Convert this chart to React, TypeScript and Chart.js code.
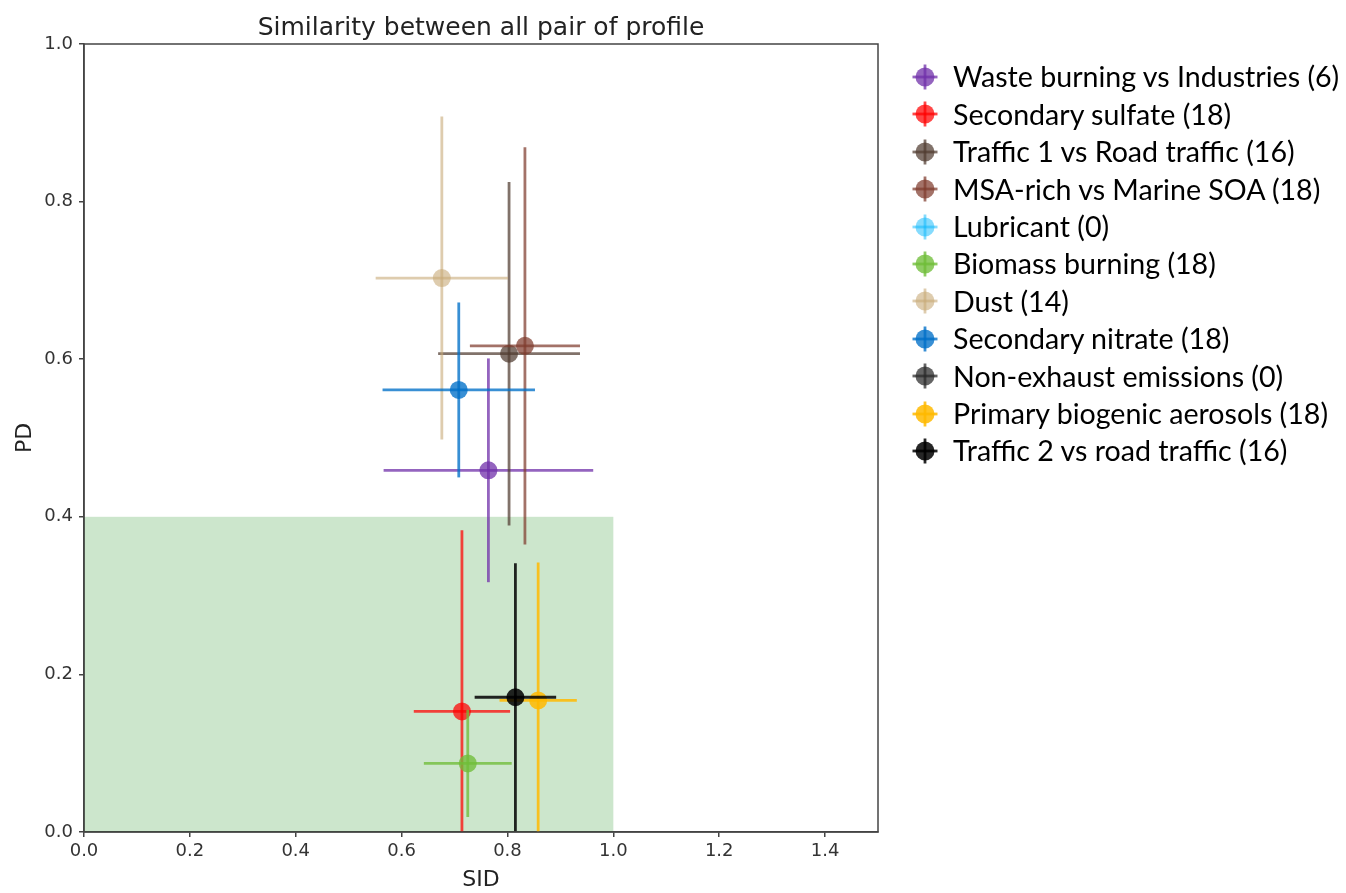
import React, { useEffect, useRef } from "react";
import { Chart, registerables } from "chart.js";

Chart.register(...registerables);

const seriesLabels = [
  "Waste burning vs Industries (6)",
  "Secondary sulfate (18)",
  "Traffic 1 vs Road traffic (16)",
  "MSA-rich vs Marine SOA (18)",
  "Lubricant (0)",
  "Biomass burning (18)",
  "Dust (14)",
  "Secondary nitrate (18)",
  "Non-exhaust emissions (0)",
  "Primary biogenic aerosols (18)",
  "Traffic 2 vs road traffic (16)",
];
const seriesColors = [
  "rgba(112,48,170,0.75)",
  "rgba(255,0,0,0.72)",
  "rgba(80,60,48,0.72)",
  "rgba(128,60,46,0.72)",
  "rgba(0,180,250,0.48)",
  "rgba(112,190,56,0.78)",
  "rgba(200,170,120,0.6)",
  "rgba(0,112,200,0.78)",
  "rgba(40,40,40,0.72)",
  "rgba(255,186,0,0.85)",
  "rgba(0,0,0,0.85)",
];
const sidValues: (number | null)[] = [0.764, 0.714, 0.803, 0.833, null, 0.725, 0.676, 0.708, null, 0.858, 0.815];
const pdValues: (number | null)[] = [0.459, 0.153, 0.607, 0.617, null, 0.087, 0.703, 0.561, null, 0.167, 0.171];
const sidErr: (number | null)[] = [0.198, 0.091, 0.134, 0.104, null, 0.083, 0.125, 0.144, null, 0.073, 0.077];
const pdErr: (number | null)[] = [0.142, 0.23, 0.218, 0.252, null, 0.068, 0.205, 0.111, null, 0.175, 0.17];

const xTicks = [0, 0.2, 0.4, 0.6, 0.8, 1.0, 1.2, 1.4];
const yTicks = [0, 0.2, 0.4, 0.6, 0.8, 1.0];
const shadeSID = [0, 1.0];
const shadePD = [0, 0.4];

const titleText = "Similarity between all pair of profile";
const xTitle = "SID";
const yTitle = "PD";

const AXIS_COLOR = "#444";

function Marker({ color }: { color: string }) {
  return (
    <svg width={28} height={28} style={{ position: "absolute", left: 911, top: -14 + 18.7 }}>
      <line x1={1.5} y1={14} x2={26.5} y2={14} stroke={color} strokeWidth={2.8} />
      <line x1={14} y1={1.5} x2={14} y2={26.5} stroke={color} strokeWidth={2.8} />
      <circle cx={14} cy={14} r={9.5} fill={color} />
    </svg>
  );
}

export default function App() {
  const canvasRef = useRef<HTMLCanvasElement | null>(null);

  useEffect(() => {
    const canvas = canvasRef.current;
    if (!canvas) return;

    const shadePlugin = {
      id: "shade",
      beforeDatasetsDraw(chart: any) {
        const { ctx, chartArea, scales } = chart;
        const x0 = scales.x.getPixelForValue(shadeSID[0]);
        const x1 = scales.x.getPixelForValue(shadeSID[1]);
        const y0 = scales.y.getPixelForValue(shadePD[0]);
        const y1 = scales.y.getPixelForValue(shadePD[1]);
        ctx.save();
        ctx.beginPath();
        ctx.rect(chartArea.left, chartArea.top, chartArea.right - chartArea.left, chartArea.bottom - chartArea.top);
        ctx.clip();
        ctx.fillStyle = "rgba(0,128,0,0.2)";
        ctx.fillRect(x0, y1, x1 - x0, y0 - y1);
        ctx.restore();
      },
    };

    const errorPlugin = {
      id: "errorbars",
      beforeDatasetDraw(chart: any, args: any) {
        const i = args.index;
        const x = sidValues[i];
        const y = pdValues[i];
        if (x === null || y === null) return;
        const xe = sidErr[i] as number;
        const ye = pdErr[i] as number;
        const { ctx, chartArea, scales } = chart;
        ctx.save();
        ctx.beginPath();
        ctx.rect(chartArea.left, chartArea.top, chartArea.right - chartArea.left, chartArea.bottom - chartArea.top);
        ctx.clip();
        ctx.strokeStyle = seriesColors[i];
        ctx.lineWidth = 2.8;
        const px = scales.x.getPixelForValue(x);
        const py = scales.y.getPixelForValue(y);
        ctx.beginPath();
        ctx.moveTo(scales.x.getPixelForValue(x - xe), py);
        ctx.lineTo(scales.x.getPixelForValue(x + xe), py);
        ctx.stroke();
        ctx.beginPath();
        ctx.moveTo(px, scales.y.getPixelForValue(y - ye));
        ctx.lineTo(px, scales.y.getPixelForValue(y + ye));
        ctx.stroke();
        ctx.restore();
      },
    };

    const framePlugin = {
      id: "frame",
      afterDraw(chart: any) {
        const { ctx, chartArea } = chart;
        ctx.save();
        ctx.strokeStyle = AXIS_COLOR;
        ctx.lineWidth = 1.5;
        ctx.strokeRect(chartArea.left, chartArea.top, chartArea.right - chartArea.left, chartArea.bottom - chartArea.top);
        ctx.restore();
      },
    };

    const n = seriesLabels.length;
    const datasets = seriesLabels.map((label, i) => ({
      label,
      data:
        sidValues[i] === null || pdValues[i] === null
          ? []
          : [{ x: sidValues[i] as number, y: pdValues[i] as number }],
      backgroundColor: seriesColors[i],
      borderColor: "rgba(0,0,0,0)",
      borderWidth: 0,
      pointRadius: 9,
      pointHoverRadius: 9,
      order: n - i,
    }));

    const chart = new Chart(canvas, {
      type: "scatter",
      data: { datasets },
      plugins: [shadePlugin, errorPlugin, framePlugin],
      options: {
        animation: false,
        responsive: false,
        maintainAspectRatio: false,
        layout: { padding: { left: 0, right: 1346 - 878, top: 0, bottom: 0 } },
        plugins: {
          legend: { display: false },
          tooltip: { enabled: false },
          title: {
            display: true,
            text: titleText,
            fullSize: false,
            color: "#222",
            font: { family: "DejaVu Sans", size: 25, weight: "normal", lineHeight: 1.2 },
            padding: { top: 13, bottom: 1 },
          },
        },
        scales: {
          x: {
            type: "linear",
            min: 0,
            max: 1.5,
            afterBuildTicks: (scale: any) => {
              scale.ticks = xTicks.map((v) => ({ value: v }));
            },
            afterFit: (scale: any) => {
              scale.height = 893 - 832;
            },
            ticks: {
              color: "#333",
              font: { family: "DejaVu Sans", size: 18 },
              padding: 4,
              maxRotation: 0,
              autoSkip: false,
              callback: (v: any) => Number(v).toFixed(1),
            },
            grid: { display: true, drawOnChartArea: false, drawTicks: true, tickLength: 5, color: AXIS_COLOR, lineWidth: 1.5 },
            border: { display: true, color: AXIS_COLOR, width: 1.5 },
            title: {
              display: true,
              text: xTitle,
              color: "#222",
              font: { family: "DejaVu Sans", size: 22 },
              padding: { top: 0, bottom: 0 },
            },
          },
          y: {
            type: "linear",
            min: 0,
            max: 1.0,
            afterBuildTicks: (scale: any) => {
              scale.ticks = yTicks.map((v) => ({ value: v }));
            },
            afterFit: (scale: any) => {
              scale.width = 84;
            },
            ticks: {
              color: "#333",
              font: { family: "DejaVu Sans", size: 18 },
              padding: 6,
              autoSkip: false,
              callback: (v: any) => Number(v).toFixed(1),
            },
            grid: { display: true, drawOnChartArea: false, drawTicks: true, tickLength: 5, color: AXIS_COLOR, lineWidth: 1.5 },
            border: { display: true, color: AXIS_COLOR, width: 1.5 },
            title: {
              display: true,
              text: yTitle,
              color: "#222",
              font: { family: "DejaVu Sans", size: 22 },
              padding: { top: 12, bottom: 0 },
            },
          },
        },
      } as any,
    });

    return () => chart.destroy();
  }, []);

  return (
    <div style={{ position: "absolute", left: 0, top: 0, width: 1346, height: 893, background: "#fff" }}>
      <canvas ref={canvasRef} width={1346} height={893} style={{ position: "absolute", left: 0, top: 0 }} />
      {seriesLabels.map((label, i) => (
        <div
          key={label}
          style={{
            position: "absolute",
            left: 0,
            top: 58.3 + i * 37.4,
            height: 37.4,
            width: 1346,
          }}
        >
          <Marker color={seriesColors[i]} />
          <span
            style={{
              position: "absolute",
              left: 953,
              top: 0,
              lineHeight: "37.4px",
              fontFamily: "Lato, 'Open Sans', sans-serif",
              fontSize: 28.6,
              color: "#000",
              whiteSpace: "nowrap",
            }}
          >
            {label}
          </span>
        </div>
      ))}
    </div>
  );
}
